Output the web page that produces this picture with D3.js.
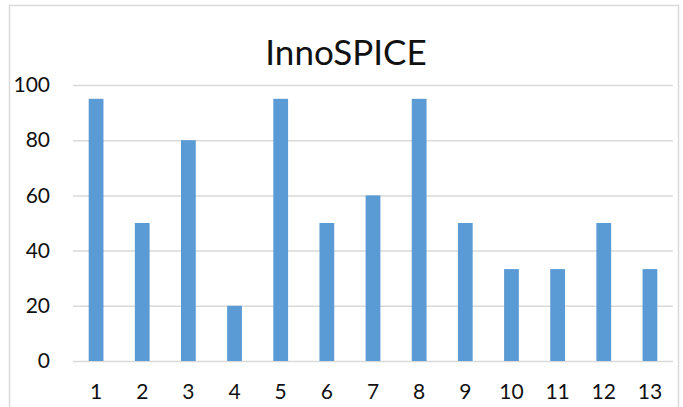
<!DOCTYPE html>
<html>
<head>
<meta charset="utf-8">
<script src="https://cdn.jsdelivr.net/npm/d3@7"></script>
<style>
  body { margin: 0; background: #fff; }
  svg text { font-family: Lato, "Open Sans", sans-serif; fill: #111; }
</style>
</head>
<body>
<svg id="chart" width="683" height="407"></svg>
<script>
// === data ===
const categories = ["1", "2", "3", "4", "5", "6", "7", "8", "9", "10", "11", "12", "13"];
const values = [95, 50, 80, 20, 95, 50, 60, 95, 50, 33.3, 33.3, 50, 33.3];
const yTicks = [0, 20, 40, 60, 80, 100];
const chartTitle = "InnoSPICE";

const svg = d3.select("#chart");
const width = +svg.attr("width");
const height = +svg.attr("height");
const margin = { top: 85, right: 10, bottom: 46, left: 73 };
const innerWidth = 673 - margin.left;
const innerHeight = 361 - margin.top;

// chart border (bottom edge lies below the picture)
svg.append("path")
  .attr("d", `M9.5,${height} V5.5 H678.5 V${height}`)
  .attr("fill", "none")
  .attr("stroke", "#d9d9d9")
  .attr("stroke-width", 1.5);

const g = svg.append("g")
  .attr("transform", `translate(${margin.left}, ${margin.top})`);

const x = d3.scaleBand()
  .domain(categories)
  .range([0, innerWidth])
  .paddingInner(0.68)
  .paddingOuter(0.34);

const y = d3.scaleLinear()
  .domain([0, 100])
  .range([innerHeight, 0]);

// gridlines
g.selectAll(".grid")
  .data(yTicks)
  .enter()
  .append("line")
  .attr("class", "grid")
  .attr("x1", 0).attr("x2", innerWidth)
  .attr("y1", d => y(d) + 0.5).attr("y2", d => y(d) + 0.5)
  .attr("stroke", "#d9d9d9")
  .attr("stroke-width", 1.5);

// bars
g.selectAll(".bar")
  .data(values)
  .enter()
  .append("rect")
  .attr("class", "bar")
  .attr("x", (d, i) => x(categories[i]))
  .attr("y", d => y(d))
  .attr("width", x.bandwidth())
  .attr("height", d => innerHeight - y(d))
  .attr("fill", "#5b9bd5");

// y axis labels
const yAxis = g.append("g")
  .call(d3.axisLeft(y).tickValues(yTicks).tickSize(0).tickPadding(23));
yAxis.select(".domain").remove();
yAxis.selectAll("text").attr("font-size", "21px").attr("fill", "#111");

// x axis labels
const xAxis = g.append("g")
  .attr("transform", `translate(0, ${innerHeight})`)
  .call(d3.axisBottom(x).tickSize(0).tickPadding(23));
xAxis.select(".domain").remove();
xAxis.selectAll("text").attr("font-size", "21px").attr("fill", "#111");

// title
svg.append("text")
  .attr("x", 346)
  .attr("y", 65)
  .attr("text-anchor", "middle")
  .attr("font-size", "35px")
  .text(chartTitle);
</script>
</body>
</html>
